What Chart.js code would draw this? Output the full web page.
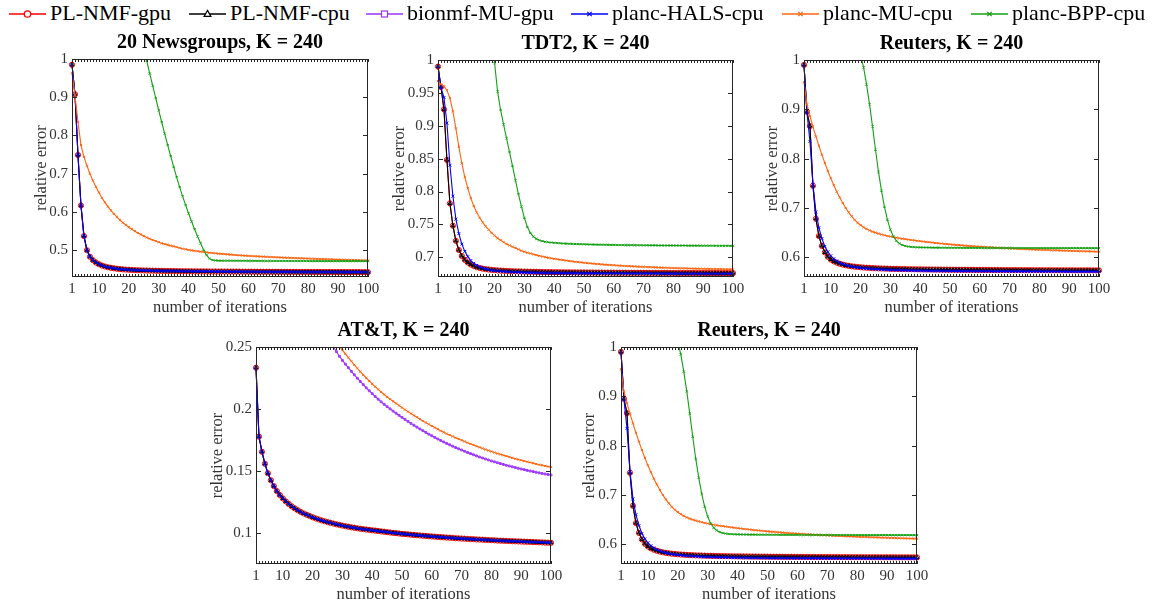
<!DOCTYPE html>
<html>
<head>
<meta charset="utf-8">
<script src="https://cdn.jsdelivr.net/npm/chart.js@4.4.1/dist/chart.umd.min.js"></script>
<style>
  html, body { margin: 0; padding: 0; background: #fff; }
  #page { position: relative; width: 1163px; height: 611px; overflow: hidden; font-family: 'Liberation Serif', 'Times New Roman', serif; }
  #page canvas { position: absolute; }
  .key-line { position: absolute; top: 0; }
  .key-text { position: absolute; top: 2px; font-size: 22px; line-height: 22px; color: #000; white-space: nowrap; }
</style>
</head>
<body>
<div id="page"></div>
<script>
// ---- data ----
const seriesNames = ['PL-NMF-gpu', 'PL-NMF-cpu', 'bionmf-MU-gpu', 'planc-HALS-cpu', 'planc-MU-cpu', 'planc-BPP-cpu'];
const xTicks = [1, 10, 20, 30, 40, 50, 60, 70, 80, 90, 100];
const newsTicks = [0.5, 0.6, 0.7, 0.8, 0.9, 1];
const tdtTicks = [0.7, 0.75, 0.8, 0.85, 0.9, 0.95, 1];
const reutersTicks = [0.6, 0.7, 0.8, 0.9, 1];
const attTicks = [0.1, 0.15, 0.2, 0.25];

// 20 Newsgroups (PL-NMF gpu/cpu and HALS overlap in the figure)
const news_plnmf = [
  0.985, 0.908, 0.749, 0.617, 0.537, 0.500, 0.483, 0.474, 0.468, 0.4635,
  0.4600, 0.4575, 0.4555, 0.4540, 0.4527, 0.4516, 0.4507, 0.4500, 0.4494, 0.4489,
  0.4484, 0.4480, 0.4477, 0.4474, 0.4471, 0.4469, 0.4467, 0.4465, 0.4463, 0.4461,
  0.4460, 0.4458, 0.4457, 0.4456, 0.4455, 0.4454, 0.4453, 0.4452, 0.4451, 0.4450,
  0.4449, 0.4448, 0.4448, 0.4447, 0.4446, 0.4446, 0.4445, 0.4444, 0.4444, 0.4443,
  0.4443, 0.4442, 0.4442, 0.4441, 0.4441, 0.4440, 0.4440, 0.4439, 0.4439, 0.4438,
  0.4438, 0.4438, 0.4437, 0.4437, 0.4436, 0.4436, 0.4436, 0.4435, 0.4435, 0.4435,
  0.4434, 0.4434, 0.4434, 0.4433, 0.4433, 0.4433, 0.4432, 0.4432, 0.4432, 0.4432,
  0.4431, 0.4431, 0.4431, 0.4431, 0.4430, 0.4430, 0.4430, 0.4430, 0.4429, 0.4429,
  0.4429, 0.4429, 0.4428, 0.4428, 0.4428, 0.4428, 0.4428, 0.4427, 0.4427, 0.4427];
const news_mu = [
  0.963, 0.905, 0.835, 0.775, 0.744, 0.721, 0.700, 0.682, 0.666, 0.651,
  0.637, 0.625, 0.614, 0.604, 0.595, 0.587, 0.579, 0.572, 0.566, 0.560,
  0.555, 0.550, 0.545, 0.541, 0.537, 0.533, 0.530, 0.527, 0.524, 0.521,
  0.518, 0.516, 0.514, 0.512, 0.510, 0.508, 0.506, 0.504, 0.5025, 0.501,
  0.4997, 0.4985, 0.4974, 0.4963, 0.4953, 0.4944, 0.4935, 0.4927, 0.4919, 0.4911,
  0.4904, 0.4897, 0.4891, 0.4885, 0.4879, 0.4873, 0.4868, 0.4863, 0.4858, 0.4853,
  0.4849, 0.4844, 0.4840, 0.4836, 0.4832, 0.4828, 0.4824, 0.4820, 0.4817, 0.4813,
  0.4810, 0.4806, 0.4803, 0.4800, 0.4797, 0.4794, 0.4791, 0.4788, 0.4785, 0.4782,
  0.4779, 0.4776, 0.4773, 0.4771, 0.4768, 0.4765, 0.4763, 0.4760, 0.4758, 0.4755,
  0.4753, 0.4750, 0.4748, 0.4746, 0.4743, 0.4741, 0.4739, 0.4737, 0.4735, 0.4733];
const news_bpp_start = 25; // earlier iterations are above the plotted range
const news_bpp = [
  1.035, 0.995, 0.962, 0.930, 0.898, 0.866, 0.835, 0.805, 0.775, 0.746,
  0.718, 0.691, 0.665, 0.641, 0.618, 0.596, 0.575, 0.555, 0.536, 0.518,
  0.501, 0.487, 0.478, 0.4745, 0.4733, 0.4728, 0.4727, 0.4726, 0.4726, 0.4725,
  0.4725, 0.4724, 0.4724, 0.4723, 0.4723, 0.4722, 0.4722, 0.4721, 0.4721, 0.4721,
  0.4720, 0.4720, 0.4720, 0.4719, 0.4719, 0.4719, 0.4719, 0.4718, 0.4718, 0.4718,
  0.4718, 0.4717, 0.4717, 0.4717, 0.4717, 0.4717, 0.4716, 0.4716, 0.4716, 0.4716,
  0.4716, 0.4716, 0.4715, 0.4715, 0.4715, 0.4715, 0.4715, 0.4715, 0.4715, 0.4715,
  0.4715, 0.4715, 0.4715, 0.4715, 0.4715, 0.4715];

// TDT2
const tdt_plnmf = [
  0.990, 0.959, 0.925, 0.848, 0.782, 0.748, 0.725, 0.711, 0.702, 0.696,
  0.692, 0.689, 0.6868, 0.6850, 0.6837, 0.6827, 0.6819, 0.6813, 0.6808, 0.6804,
  0.6800, 0.6797, 0.6794, 0.6792, 0.6790, 0.6788, 0.6786, 0.6785, 0.6783, 0.6782,
  0.6781, 0.6780, 0.6779, 0.6778, 0.6777, 0.6776, 0.6775, 0.6775, 0.6774, 0.6773,
  0.6773, 0.6772, 0.6772, 0.6771, 0.6771, 0.6770, 0.6770, 0.6769, 0.6769, 0.6769,
  0.6768, 0.6768, 0.6768, 0.6767, 0.6767, 0.6767, 0.6766, 0.6766, 0.6766, 0.6766,
  0.6765, 0.6765, 0.6765, 0.6765, 0.6764, 0.6764, 0.6764, 0.6764, 0.6764, 0.6763,
  0.6763, 0.6763, 0.6763, 0.6763, 0.6762, 0.6762, 0.6762, 0.6762, 0.6762, 0.6762,
  0.6761, 0.6761, 0.6761, 0.6761, 0.6761, 0.6761, 0.6761, 0.6760, 0.6760, 0.6760,
  0.6760, 0.6760, 0.6760, 0.6760, 0.6760, 0.6759, 0.6759, 0.6759, 0.6759, 0.6759];
const tdt_hals = [
  0.990, 0.958, 0.943, 0.904, 0.840, 0.793, 0.758, 0.736, 0.720, 0.709,
  0.701, 0.695, 0.6908, 0.6877, 0.6853, 0.6835, 0.6822, 0.6811, 0.6803, 0.6796,
  0.6791, 0.6787, 0.6783, 0.6780, 0.6777, 0.6775, 0.6773, 0.6771, 0.6770, 0.6768,
  0.6767, 0.6766, 0.6765, 0.6764, 0.6763, 0.6762, 0.6762, 0.6761, 0.6760, 0.6760,
  0.6759, 0.6759, 0.6758, 0.6758, 0.6757, 0.6757, 0.6757, 0.6756, 0.6756, 0.6756,
  0.6755, 0.6755, 0.6755, 0.6755, 0.6754, 0.6754, 0.6754, 0.6754, 0.6754, 0.6753,
  0.6753, 0.6753, 0.6753, 0.6753, 0.6753, 0.6752, 0.6752, 0.6752, 0.6752, 0.6752,
  0.6752, 0.6752, 0.6751, 0.6751, 0.6751, 0.6751, 0.6751, 0.6751, 0.6751, 0.6751,
  0.6750, 0.6750, 0.6750, 0.6750, 0.6750, 0.6750, 0.6750, 0.6750, 0.6750, 0.6750,
  0.6749, 0.6749, 0.6749, 0.6749, 0.6749, 0.6749, 0.6749, 0.6749, 0.6749, 0.6749];
const tdt_mu = [
  0.968, 0.963, 0.960, 0.954, 0.942, 0.922, 0.896, 0.868, 0.843, 0.822,
  0.805, 0.790, 0.778, 0.768, 0.760, 0.753, 0.747, 0.742, 0.737, 0.733,
  0.729, 0.726, 0.723, 0.720, 0.718, 0.716, 0.714, 0.712, 0.710, 0.7085,
  0.7070, 0.7057, 0.7045, 0.7033, 0.7022, 0.7012, 0.7002, 0.6993, 0.6985, 0.6977,
  0.6970, 0.6963, 0.6956, 0.6950, 0.6944, 0.6938, 0.6932, 0.6927, 0.6922, 0.6917,
  0.6912, 0.6908, 0.6904, 0.6900, 0.6896, 0.6892, 0.6888, 0.6885, 0.6882, 0.6879,
  0.6876, 0.6873, 0.6870, 0.6867, 0.6865, 0.6862, 0.6860, 0.6858, 0.6856, 0.6854,
  0.6852, 0.6850, 0.6848, 0.6846, 0.6844, 0.6843, 0.6841, 0.6840, 0.6838, 0.6837,
  0.6835, 0.6834, 0.6833, 0.6832, 0.6830, 0.6829, 0.6828, 0.6827, 0.6826, 0.6825,
  0.6824, 0.6823, 0.6822, 0.6821, 0.6820, 0.6819, 0.6818, 0.6818, 0.6817, 0.6816];
const tdt_bpp_start = 19;
const tdt_bpp = [
  1.040, 0.995, 0.952, 0.924, 0.902, 0.881, 0.860, 0.839, 0.817, 0.796,
  0.777, 0.760, 0.746, 0.737, 0.7315, 0.7280, 0.7258, 0.7245, 0.7236, 0.7229,
  0.7224, 0.7220, 0.7216, 0.7213, 0.7210, 0.7208, 0.7206, 0.7204, 0.7202, 0.7200,
  0.7199, 0.7197, 0.7196, 0.7195, 0.7194, 0.7193, 0.7192, 0.7191, 0.7190, 0.7189,
  0.7188, 0.7188, 0.7187, 0.7186, 0.7186, 0.7185, 0.7185, 0.7184, 0.7184, 0.7183,
  0.7183, 0.7182, 0.7182, 0.7181, 0.7181, 0.7181, 0.7180, 0.7180, 0.7180, 0.7179,
  0.7179, 0.7179, 0.7178, 0.7178, 0.7178, 0.7178, 0.7177, 0.7177, 0.7177, 0.7177,
  0.7176, 0.7176, 0.7176, 0.7176, 0.7176, 0.7175, 0.7175, 0.7175, 0.7175, 0.7175,
  0.7174, 0.7174];

// Reuters (shown twice in the figure)
const reu_plnmf = [
  0.990, 0.895, 0.866, 0.745, 0.678, 0.643, 0.623, 0.610, 0.601, 0.5955,
  0.5918, 0.5890, 0.5868, 0.5851, 0.5837, 0.5826, 0.5817, 0.5809, 0.5803, 0.5797,
  0.5792, 0.5788, 0.5784, 0.5781, 0.5778, 0.5775, 0.5773, 0.5771, 0.5769, 0.5767,
  0.5765, 0.5764, 0.5762, 0.5761, 0.5760, 0.5759, 0.5758, 0.5757, 0.5756, 0.5755,
  0.5754, 0.5753, 0.5753, 0.5752, 0.5751, 0.5751, 0.5750, 0.5749, 0.5749, 0.5748,
  0.5748, 0.5747, 0.5747, 0.5746, 0.5746, 0.5745, 0.5745, 0.5745, 0.5744, 0.5744,
  0.5743, 0.5743, 0.5743, 0.5742, 0.5742, 0.5742, 0.5741, 0.5741, 0.5741, 0.5740,
  0.5740, 0.5740, 0.5740, 0.5739, 0.5739, 0.5739, 0.5739, 0.5738, 0.5738, 0.5738,
  0.5738, 0.5737, 0.5737, 0.5737, 0.5737, 0.5737, 0.5736, 0.5736, 0.5736, 0.5736,
  0.5736, 0.5735, 0.5735, 0.5735, 0.5735, 0.5735, 0.5735, 0.5734, 0.5734, 0.5734];
const reu_hals = [
  0.990, 0.893, 0.835, 0.748, 0.692, 0.660, 0.638, 0.622, 0.611, 0.603,
  0.597, 0.5925, 0.5890, 0.5864, 0.5843, 0.5827, 0.5813, 0.5802, 0.5793, 0.5785,
  0.5778, 0.5772, 0.5767, 0.5762, 0.5758, 0.5754, 0.5751, 0.5748, 0.5745, 0.5743,
  0.5741, 0.5739, 0.5737, 0.5735, 0.5734, 0.5732, 0.5731, 0.5730, 0.5729, 0.5728,
  0.5727, 0.5726, 0.5725, 0.5724, 0.5724, 0.5723, 0.5722, 0.5722, 0.5721, 0.5721,
  0.5720, 0.5720, 0.5719, 0.5719, 0.5718, 0.5718, 0.5718, 0.5717, 0.5717, 0.5717,
  0.5716, 0.5716, 0.5716, 0.5715, 0.5715, 0.5715, 0.5715, 0.5714, 0.5714, 0.5714,
  0.5714, 0.5713, 0.5713, 0.5713, 0.5713, 0.5713, 0.5712, 0.5712, 0.5712, 0.5712,
  0.5712, 0.5711, 0.5711, 0.5711, 0.5711, 0.5711, 0.5711, 0.5710, 0.5710, 0.5710,
  0.5710, 0.5710, 0.5710, 0.5709, 0.5709, 0.5709, 0.5709, 0.5709, 0.5709, 0.5708];
const reu_mu = [
  0.955, 0.910, 0.886, 0.865, 0.845, 0.826, 0.808, 0.791, 0.775, 0.760,
  0.746, 0.733, 0.721, 0.710, 0.700, 0.691, 0.683, 0.676, 0.670, 0.665,
  0.661, 0.6575, 0.6545, 0.652, 0.650, 0.648, 0.6463, 0.6447, 0.6433, 0.6420,
  0.6408, 0.6397, 0.6387, 0.6377, 0.6368, 0.6359, 0.6350, 0.6342, 0.6334, 0.6326,
  0.6319, 0.6312, 0.6305, 0.6298, 0.6291, 0.6285, 0.6279, 0.6273, 0.6267, 0.6261,
  0.6256, 0.6251, 0.6246, 0.6241, 0.6236, 0.6232, 0.6227, 0.6223, 0.6219, 0.6215,
  0.6211, 0.6207, 0.6203, 0.6200, 0.6196, 0.6193, 0.6190, 0.6186, 0.6183, 0.6180,
  0.6177, 0.6174, 0.6171, 0.6168, 0.6166, 0.6163, 0.6160, 0.6158, 0.6155, 0.6153,
  0.6150, 0.6148, 0.6146, 0.6143, 0.6141, 0.6139, 0.6137, 0.6135, 0.6133, 0.6131,
  0.6129, 0.6127, 0.6125, 0.6123, 0.6121, 0.6119, 0.6118, 0.6116, 0.6114, 0.6112];
const reu_bpp_start = 20;
const reu_bpp = [
  1.010, 0.985, 0.950, 0.910, 0.865, 0.818, 0.773, 0.735, 0.702, 0.676,
  0.656, 0.642, 0.6335, 0.628, 0.6248, 0.6229, 0.6217, 0.6210, 0.6205, 0.6202,
  0.6200, 0.6199, 0.6198, 0.6197, 0.6196, 0.6195, 0.6195, 0.6194, 0.6194, 0.6193,
  0.6193, 0.6192, 0.6192, 0.6192, 0.6191, 0.6191, 0.6191, 0.6190, 0.6190, 0.6190,
  0.6190, 0.6189, 0.6189, 0.6189, 0.6189, 0.6189, 0.6188, 0.6188, 0.6188, 0.6188,
  0.6188, 0.6188, 0.6187, 0.6187, 0.6187, 0.6187, 0.6187, 0.6187, 0.6187, 0.6187,
  0.6186, 0.6186, 0.6186, 0.6186, 0.6186, 0.6186, 0.6186, 0.6186, 0.6186, 0.6186,
  0.6186, 0.6186, 0.6185, 0.6185, 0.6185, 0.6185, 0.6185, 0.6185, 0.6185, 0.6185,
  0.6185];

// AT&T (PL-NMF gpu/cpu and HALS overlap in the figure)
const att_plnmf = [
  0.2333, 0.1777, 0.1655, 0.1558, 0.1482, 0.1425, 0.1378, 0.1338, 0.1306, 0.1279,
  0.1255, 0.1234, 0.1215, 0.1199, 0.1184, 0.1170, 0.1158, 0.1147, 0.1137, 0.1127,
  0.1118, 0.1110, 0.1102, 0.1095, 0.1088, 0.1082, 0.1076, 0.1070, 0.1065, 0.1060,
  0.1055, 0.1050, 0.1046, 0.1042, 0.1038, 0.1034, 0.1031, 0.1028, 0.1025, 0.1022,
  0.1019, 0.1016, 0.1013, 0.1010, 0.1007, 0.1004, 0.1001, 0.0999, 0.0996, 0.0993,
  0.0991, 0.0989, 0.0986, 0.0984, 0.0982, 0.0980, 0.0978, 0.0976, 0.0974, 0.0972,
  0.0970, 0.0968, 0.0967, 0.0965, 0.0963, 0.0962, 0.0960, 0.0958, 0.0957, 0.0955,
  0.0954, 0.0952, 0.0951, 0.0950, 0.0948, 0.0947, 0.0946, 0.0944, 0.0943, 0.0942,
  0.0941, 0.0939, 0.0938, 0.0937, 0.0936, 0.0935, 0.0934, 0.0933, 0.0932, 0.0931,
  0.0930, 0.0929, 0.0928, 0.0927, 0.0926, 0.0925, 0.0924, 0.0923, 0.0922, 0.0921];
const att_mu_start = 28;
const att_mu = [
  0.2537, 0.2506, 0.2475, 0.2445, 0.2415, 0.2385, 0.2356, 0.2328, 0.2301, 0.2275,
  0.2250, 0.2226, 0.2203, 0.2180, 0.2158, 0.2137, 0.2117, 0.2098, 0.2080, 0.2062,
  0.2045, 0.2028, 0.2011, 0.1995, 0.1979, 0.1963, 0.1948, 0.1933, 0.1918, 0.1904,
  0.1890, 0.1876, 0.1863, 0.1850, 0.1837, 0.1825, 0.1813, 0.1801, 0.1790, 0.1779,
  0.1768, 0.1758, 0.1748, 0.1738, 0.1728, 0.1718, 0.1709, 0.1700, 0.1691, 0.1682,
  0.1673, 0.1665, 0.1657, 0.1649, 0.1641, 0.1634, 0.1627, 0.1620, 0.1613, 0.1606,
  0.1599, 0.1593, 0.1587, 0.1581, 0.1575, 0.1569, 0.1563, 0.1557, 0.1551, 0.1546,
  0.1541, 0.1536, 0.1531];
const att_bionmf_start = 26;
const att_bionmf = [
  0.2545, 0.2502, 0.2462, 0.2425, 0.2392, 0.2362, 0.2333, 0.2304, 0.2276, 0.2248,
  0.2222, 0.2196, 0.2171, 0.2147, 0.2124, 0.2101, 0.2079, 0.2058, 0.2038, 0.2019,
  0.2001, 0.1983, 0.1966, 0.1949, 0.1932, 0.1916, 0.1900, 0.1884, 0.1869, 0.1854,
  0.1839, 0.1825, 0.1811, 0.1797, 0.1784, 0.1771, 0.1758, 0.1746, 0.1734, 0.1722,
  0.1711, 0.1700, 0.1689, 0.1679, 0.1669, 0.1659, 0.1649, 0.1640, 0.1631, 0.1622,
  0.1613, 0.1605, 0.1597, 0.1589, 0.1581, 0.1574, 0.1567, 0.1560, 0.1553, 0.1546,
  0.1540, 0.1534, 0.1528, 0.1522, 0.1516, 0.1511, 0.1505, 0.1500, 0.1495, 0.1490,
  0.1485, 0.1480, 0.1476, 0.1472, 0.1468];

// ---- styling ----
const SERIF = "'Liberation Serif', 'Times New Roman', serif";
const TEXT_GRAY = '#333333';
const AXIS_W = 50;     // fixed width of the y axis block
const TITLE_H = 28;    // title block height (20px * 1.2 + 4)
const XAXIS_H = 45;

const seriesStyle = {
  'PL-NMF-gpu':     { color: '#ff0000', point: 'circle',   r: 2.6, order: 5 },
  'PL-NMF-cpu':     { color: '#000000', point: 'triangle', r: 2.2, order: 4 },
  'bionmf-MU-gpu':  { color: '#9933ff', point: 'rect',     r: 1.3, order: 3 },
  'planc-HALS-cpu': { color: '#0000ff', point: 'crossRot', r: 2.0, order: 2 },
  'planc-MU-cpu':   { color: '#ff6410', point: 'crossRot', r: 1.5, order: 1 },
  'planc-BPP-cpu':  { color: '#13a013', point: 'crossRot', r: 1.5, order: 0 }
};

const reutersSeries = [
  { name: 'PL-NMF-gpu', values: reu_plnmf },
  { name: 'PL-NMF-cpu', values: reu_plnmf },
  { name: 'planc-HALS-cpu', values: reu_hals },
  { name: 'planc-MU-cpu', values: reu_mu },
  { name: 'planc-BPP-cpu', values: reu_bpp, start: reu_bpp_start }
];

const panels = [
  { title: '20 Newsgroups, K = 240', yMin: 0.43, yMax: 1, yTicks: newsTicks,
    area: { left: 72, top: 59, width: 296, height: 218 }, yTitleGap: 30,
    series: [
      { name: 'PL-NMF-gpu', values: news_plnmf },
      { name: 'PL-NMF-cpu', values: news_plnmf },
      { name: 'planc-HALS-cpu', values: news_plnmf },
      { name: 'planc-MU-cpu', values: news_mu },
      { name: 'planc-BPP-cpu', values: news_bpp, start: news_bpp_start }
    ] },
  { title: 'TDT2, K = 240', yMin: 0.67, yMax: 1, yTicks: tdtTicks,
    area: { left: 438, top: 60, width: 295, height: 217 }, yTitleGap: 38,
    series: [
      { name: 'PL-NMF-gpu', values: tdt_plnmf },
      { name: 'PL-NMF-cpu', values: tdt_plnmf },
      { name: 'planc-HALS-cpu', values: tdt_hals },
      { name: 'planc-MU-cpu', values: tdt_mu },
      { name: 'planc-BPP-cpu', values: tdt_bpp, start: tdt_bpp_start }
    ] },
  { title: 'Reuters, K = 240', yMin: 0.56, yMax: 1, yTicks: reutersTicks,
    area: { left: 804, top: 60, width: 295, height: 217 }, yTitleGap: 31,
    series: reutersSeries },
  { title: 'AT&T, K = 240', yMin: 0.075, yMax: 0.25, yTicks: attTicks,
    area: { left: 256, top: 347, width: 295, height: 217 }, yTitleGap: 38,
    series: [
      { name: 'PL-NMF-gpu', values: att_plnmf },
      { name: 'PL-NMF-cpu', values: att_plnmf },
      { name: 'bionmf-MU-gpu', values: att_bionmf, start: att_bionmf_start },
      { name: 'planc-HALS-cpu', values: att_plnmf },
      { name: 'planc-MU-cpu', values: att_mu, start: att_mu_start }
    ] },
  { title: 'Reuters, K = 240', yMin: 0.56, yMax: 1, yTicks: reutersTicks,
    area: { left: 621, top: 347, width: 296, height: 217 }, yTitleGap: 31,
    series: reutersSeries }
];

function toPoints(values, start) {
  return values.map((v, i) => ({ x: start + i, y: v }));
}

// box around the axes with inward tick marks, MATLAB style
const boxFrame = {
  id: 'boxFrame',
  afterDraw(chart) {
    const { ctx, chartArea: a, scales: { x, y } } = chart;
    ctx.save();
    ctx.strokeStyle = '#262626';
    ctx.lineWidth = 1;
    ctx.beginPath();
    for (let it = 1; it <= 100; it++) {
      const px = Math.round(x.getPixelForValue(it)) + 0.5;
      ctx.moveTo(px, a.bottom); ctx.lineTo(px, a.bottom - 3);
      ctx.moveTo(px, a.top); ctx.lineTo(px, a.top + 3);
    }
    y.ticks.forEach(t => {
      const py = Math.round(y.getPixelForValue(t.value)) + 0.5;
      ctx.moveTo(a.left, py); ctx.lineTo(a.left + 5, py);
      ctx.moveTo(a.right, py); ctx.lineTo(a.right - 5, py);
    });
    ctx.stroke();
    ctx.strokeRect(a.left + 0.5, a.top + 0.5, a.right - a.left - 1, a.bottom - a.top - 1);
    ctx.restore();
  }
};

const page = document.getElementById('page');
Chart.defaults.font.family = SERIF;

panels.forEach(p => {
  const canvas = document.createElement('canvas');
  const w = AXIS_W + p.area.width + AXIS_W;
  const h = TITLE_H + p.area.height + XAXIS_H;
  canvas.width = w;
  canvas.height = h;
  canvas.style.left = (p.area.left - AXIS_W) + 'px';
  canvas.style.top = (p.area.top - TITLE_H) + 'px';
  page.appendChild(canvas);

  new Chart(canvas, {
    type: 'line',
    data: {
      datasets: p.series.map(s => {
        const st = seriesStyle[s.name];
        return {
          label: s.name,
          data: toPoints(s.values, s.start || 1),
          borderColor: st.color,
          borderWidth: 1.1,
          pointStyle: st.point,
          pointRadius: st.r,
          pointBorderWidth: 1,
          pointBorderColor: st.color,
          pointBackgroundColor: 'rgba(255,255,255,0)',
          tension: 0,
          order: st.order,
          clip: { left: 5, right: 5, top: 0, bottom: 5 }
        };
      })
    },
    options: {
      responsive: false,
      animation: false,
      devicePixelRatio: 1,
      events: [],
      layout: { padding: { left: 0, right: AXIS_W, top: 0, bottom: 0 } },
      plugins: {
        legend: { display: false },
        tooltip: { enabled: false },
        title: {
          display: true, text: p.title, color: '#000', fullSize: false,
          font: { family: SERIF, size: 20, weight: 'bold' },
          padding: { top: 0, bottom: 4 }
        }
      },
      scales: {
        x: {
          type: 'linear', min: 1, max: 100,
          afterBuildTicks: s => { s.ticks = xTicks.map(v => ({ value: v })); },
          afterFit: s => { s.height = XAXIS_H; },
          grid: { display: false, drawTicks: false },
          border: { display: false },
          ticks: { font: { family: SERIF, size: 15 }, color: TEXT_GRAY, padding: 3, maxRotation: 0, autoSkip: false },
          title: {
            display: true, text: 'number of iterations', color: TEXT_GRAY,
            font: { family: SERIF, size: 16.5 }, padding: { top: 0, bottom: 4 }
          }
        },
        y: {
          type: 'linear', min: p.yMin, max: p.yMax,
          afterBuildTicks: s => { s.ticks = p.yTicks.map(v => ({ value: v })); },
          afterFit: s => { s.width = AXIS_W; },
          grid: { display: false, drawTicks: false },
          border: { display: false },
          ticks: { font: { family: SERIF, size: 15 }, color: TEXT_GRAY, padding: 4, autoSkip: false, callback: v => String(v) },
          title: {
            display: true, text: 'relative error', color: TEXT_GRAY,
            font: { family: SERIF, size: 16.5 },
            padding: { top: AXIS_W - 9.9 - p.yTitleGap, bottom: 0 }
          }
        }
      }
    },
    plugins: [boxFrame]
  });
});

// ---- legend row ----
const legendLeft = [9, 189, 366, 571, 782, 971];
function markerSvg(style, color) {
  const cx = 18.5, cy = 14;
  if (style === 'circle') return `<circle cx="${cx}" cy="${cy}" r="3.2" fill="#fff" stroke="${color}" stroke-width="1.3"/>`;
  if (style === 'triangle') return `<polygon points="${cx},${cy - 3.6} ${cx + 3.4},${cy + 2.4} ${cx - 3.4},${cy + 2.4}" fill="#fff" stroke="${color}" stroke-width="1.2"/>`;
  if (style === 'rect') return `<rect x="${cx - 3}" y="${cy - 3}" width="6" height="6" fill="#fff" stroke="${color}" stroke-width="1.2"/>`;
  return `<path d="M${cx - 2.2},${cy - 2.2}L${cx + 2.2},${cy + 2.2}M${cx - 2.2},${cy + 2.2}L${cx + 2.2},${cy - 2.2}" stroke="${color}" stroke-width="1.2"/>`;
}
seriesNames.forEach((name, i) => {
  const st = seriesStyle[name];
  const svg = document.createElementNS('http://www.w3.org/2000/svg', 'svg');
  svg.setAttribute('width', '37');
  svg.setAttribute('height', '28');
  svg.setAttribute('class', 'key-line');
  svg.style.left = legendLeft[i] + 'px';
  svg.innerHTML = `<line x1="0" y1="14" x2="37" y2="14" stroke="${st.color}" stroke-width="1.5"/>` + markerSvg(st.point, st.color);
  page.appendChild(svg);
  const label = document.createElement('div');
  label.className = 'key-text';
  label.style.left = (legendLeft[i] + 41) + 'px';
  label.textContent = name;
  page.appendChild(label);
});
</script>
</body>
</html>
